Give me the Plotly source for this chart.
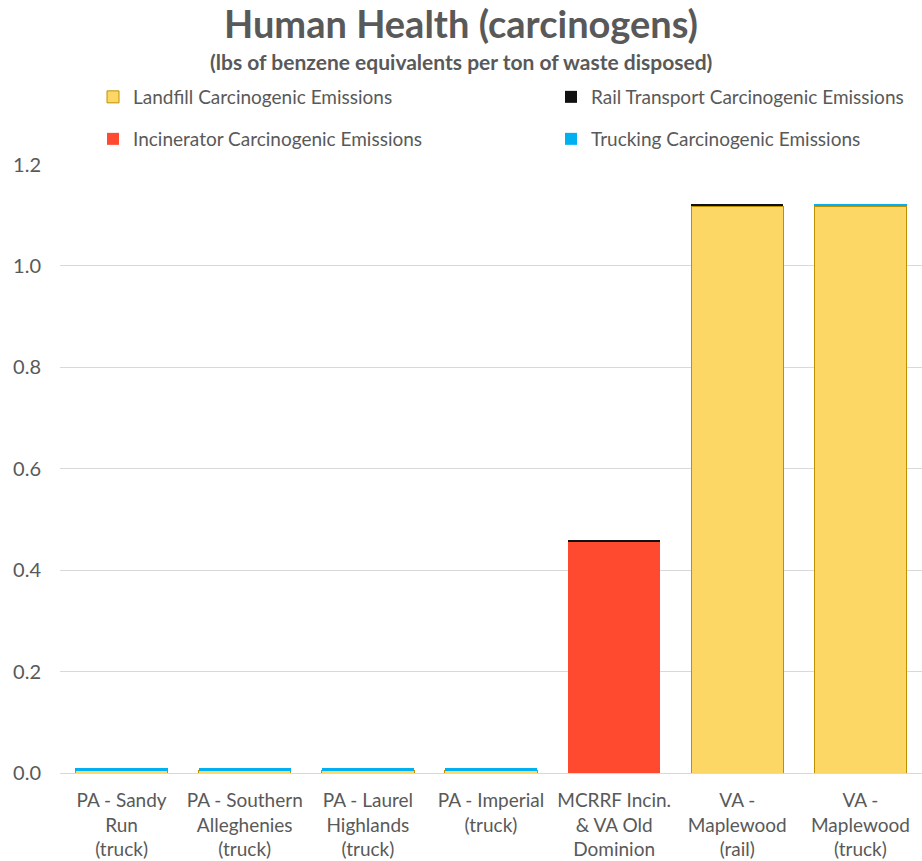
import plotly.graph_objects as go

# Disposal options compared on the x axis
sites = [
    "PA - Sandy<br>Run<br>(truck)",
    "PA - Southern<br>Alleghenies<br>(truck)",
    "PA - Laurel<br>Highlands<br>(truck)",
    "PA - Imperial<br>(truck)",
    "MCRRF Incin.<br>& VA Old<br>Dominion",
    "VA -<br>Maplewood<br>(rail)",
    "VA -<br>Maplewood<br>(truck)",
]

# lbs of benzene equivalents per ton of waste disposed
landfill = [0.004, 0.004, 0.004, 0.004, 0.0, 1.118, 1.118]
incinerator = [0.0, 0.0, 0.0, 0.0, 0.455, 0.0, 0.0]
rail = [0.0, 0.0, 0.0, 0.0, 0.005, 0.004, 0.0]
trucking = [0.005, 0.005, 0.005, 0.005, 0.0, 0.0, 0.004]

y_ticks = [0.0, 0.2, 0.4, 0.6, 0.8, 1.0, 1.2]
y_tick_text = ["0.0", "0.2", "0.4", "0.6", "0.8", "1.0", "1.2"]

GRAY = "#595959"
FONT = "Lato, 'Noto Sans', sans-serif"

W, H = 922, 861
M_L, M_R, M_T, M_B = 60, 0, 164, 88
PLOT_H = H - M_T - M_B
PLOT_W = W - M_L - M_R


def paper_y(px):
    """Convert a page pixel row to paper y."""
    return (H - M_B - px) / PLOT_H


def paper_x(px):
    return (px - M_L) / PLOT_W


fig = go.Figure()
fig.add_bar(x=sites, y=landfill, name="Landfill Carcinogenic Emissions",
            marker=dict(color="#FCD766", line=dict(color="#BF9000", width=1)),
            legend="legend")
fig.add_bar(x=sites, y=incinerator, name="Incinerator Carcinogenic Emissions",
            marker=dict(color="#FF4A30", line=dict(width=0)),
            legend="legend3")
fig.add_bar(x=sites, y=rail, name="Rail Transport Carcinogenic Emissions",
            marker=dict(color="#111111", line=dict(width=0)),
            legend="legend2")
fig.add_bar(x=sites, y=trucking, name="Trucking Carcinogenic Emissions",
            marker=dict(color="#00B0F0", line=dict(width=0)),
            legend="legend4")


def legend_box(px, py):
    """One legend entry positioned on the page (container pixels)."""
    return dict(
        orientation="h", xanchor="left", yanchor="middle",
        xref="container", yref="container",
        x=px / W, y=1 - py / H,
        font=dict(family=FONT, size=19, color=GRAY),
        bgcolor="rgba(0,0,0,0)", itemclick=False, itemdoubleclick=False,
    )


fig.update_layout(
    width=W, height=H,
    margin=dict(l=M_L, r=M_R, t=M_T, b=M_B, autoexpand=False),
    paper_bgcolor="white", plot_bgcolor="white",
    barmode="stack", bargap=0.25,
    font=dict(family=FONT, size=19, color=GRAY),
    showlegend=True,
    legend=legend_box(93, 97),
    legend2=legend_box(551, 97),
    legend3=legend_box(93, 139),
    legend4=legend_box(551, 139),
    xaxis=dict(showgrid=False, showline=True, linecolor="#D9D9D9",
               ticks="", ticklabelstandoff=10, automargin=False,
               tickfont=dict(size=19, color=GRAY)),
    yaxis=dict(range=[0, 1.201], tickvals=y_ticks, ticktext=y_tick_text,
               showgrid=True, gridcolor="#D9D9D9", gridwidth=1,
               zeroline=False, showline=False, ticks="",
               ticklabelstandoff=18, automargin=False,
               tickfont=dict(size=20, color=GRAY)),
    annotations=[
        dict(text="<b>Human Health (carcinogens)</b>",
             x=paper_x(461), y=paper_y(23), xref="paper", yref="paper",
             xanchor="center", yanchor="middle", showarrow=False,
             font=dict(family=FONT, size=38, color=GRAY)),
        dict(text="<b>(lbs of benzene equivalents per ton of waste disposed)</b>",
             x=paper_x(461), y=paper_y(62), xref="paper", yref="paper",
             xanchor="center", yanchor="middle", showarrow=False,
             font=dict(family=FONT, size=21, color=GRAY)),
    ],
)

fig.write_html("out.html")
